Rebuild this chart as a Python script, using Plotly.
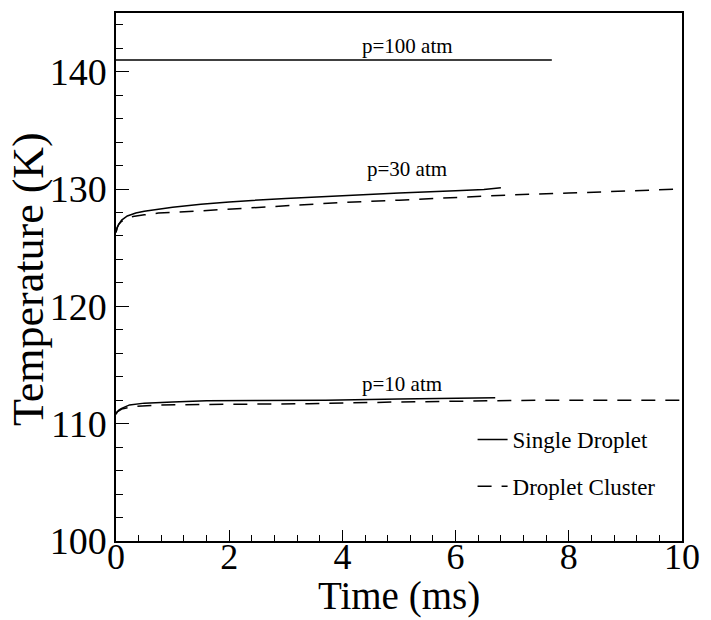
import plotly.graph_objects as go

# p=100 atm, single droplet
t100_single = [0.0, 1.0, 2.0, 3.0, 4.0, 5.0, 6.0, 7.0, 7.7]
T100_single = [141.0, 141.0, 141.0, 141.0, 141.0, 141.0, 141.0, 141.0, 141.0]

# p=30 atm
t30_single = [0.0, 0.02, 0.05, 0.1, 0.2, 0.35, 0.5, 0.75, 1.0, 1.5, 2.0, 3.0, 4.0, 5.0, 6.0, 6.5, 6.8]
T30_single = [126.3, 126.7, 127.0, 127.35, 127.7, 127.95, 128.1, 128.3, 128.45, 128.7, 128.9, 129.2, 129.45, 129.65, 129.85, 129.95, 130.1]
t30_cluster = [0.0, 0.02, 0.05, 0.1, 0.2, 0.3, 0.5, 0.75, 1.0, 2.0, 3.0, 4.0, 5.0, 6.0, 7.0, 8.0, 9.0, 10.0]
T30_cluster = [126.3, 126.7, 127.0, 127.25, 127.5, 127.65, 127.8, 127.95, 128.0, 128.3, 128.6, 128.85, 129.05, 129.3, 129.5, 129.65, 129.8, 130.0]

# p=10 atm
t10_single = [0.0, 0.02, 0.05, 0.1, 0.24, 0.5, 1.0, 1.6, 2.5, 3.7, 5.0, 6.0, 6.7]
T10_single = [110.8, 111.0, 111.15, 111.3, 111.6, 111.75, 111.85, 111.95, 111.98, 112.0, 112.1, 112.15, 112.2]
t10_cluster = [0.0, 0.02, 0.05, 0.1, 0.3, 0.77, 2.0, 3.4, 5.0, 6.5, 7.5, 10.0]
T10_cluster = [110.8, 111.0, 111.1, 111.25, 111.45, 111.6, 111.65, 111.7, 111.85, 111.95, 112.0, 112.0]

labels = ["p=100 atm", "p=30 atm", "p=10 atm"]
label_pos = [(5.15, 141.0), (5.15, 130.5), (5.05, 112.2)]

font_family = "Liberation Serif, Times New Roman, serif"
fig = go.Figure()

line_single = dict(color="black", width=1.5, dash="solid")
line_cluster = dict(color="black", width=1.5, dash="14px,10px")

fig.add_trace(go.Scatter(x=t10_single, y=T10_single, mode="lines", line=line_single,
                         name="Single Droplet", legendgroup="s", showlegend=True))
fig.add_trace(go.Scatter(x=t30_single, y=T30_single, mode="lines", line=line_single,
                         name="Single Droplet", legendgroup="s", showlegend=False))
fig.add_trace(go.Scatter(x=t100_single, y=T100_single, mode="lines", line=line_single,
                         name="Single Droplet", legendgroup="s", showlegend=False))
fig.add_trace(go.Scatter(x=t10_cluster, y=T10_cluster, mode="lines", line=line_cluster,
                         name="Droplet Cluster", legendgroup="c", showlegend=True))
fig.add_trace(go.Scatter(x=t30_cluster, y=T30_cluster, mode="lines", line=line_cluster,
                         name="Droplet Cluster", legendgroup="c", showlegend=False))

for lab, (lx, ly) in zip(labels, label_pos):
    fig.add_annotation(x=lx, y=ly, text=lab, showarrow=False, yanchor="bottom", yshift=0,
                       font=dict(family=font_family, size=21, color="black"))

# axis titles
fig.add_annotation(x=0.5, y=-79 / 530, xref="paper", yref="paper", text="Time (ms)", showarrow=False,
                   yanchor="bottom", yshift=1, borderpad=0,
                   font=dict(family=font_family, size=39, color="black"))
fig.add_annotation(x=0, y=0.5, xref="paper", yref="paper", text="Temperature (K)", showarrow=False,
                   textangle=-90, xanchor="center", xshift=-88, yshift=-2,
                   font=dict(family=font_family, size=44, color="black"))

axis_common = dict(
    showline=True, linecolor="black", linewidth=1.5, mirror=True,
    ticks="inside", tickcolor="black", tickwidth=1.2,
    showgrid=False, zeroline=False,
)

fig.update_xaxes(range=[0, 10], dtick=2, tick0=0, ticklen=11, ticklabelstandoff=-17,
                 tickfont=dict(family=font_family, size=36, color="black"),
                 minor=dict(dtick=0.4, ticks="inside", ticklen=6, tickcolor="black", tickwidth=1),
                 **axis_common)
fig.update_yaxes(range=[100, 145], dtick=10, tick0=100, ticklen=13,
                 tickfont=dict(family=font_family, size=38, color="black"),
                 minor=dict(dtick=2, ticks="inside", ticklen=7, tickcolor="black", tickwidth=1),
                 **axis_common)

fig.update_layout(
    width=711, height=620,
    margin=dict(l=116, r=23, t=11, b=79),
    plot_bgcolor="white", paper_bgcolor="white",
    font=dict(family=font_family, color="black"),
    legend=dict(x=0.63, y=0.233, xanchor="left", yanchor="top",
                bgcolor="rgba(0,0,0,0)", tracegroupgap=14, traceorder="grouped",
                font=dict(family=font_family, size=23, color="black")),
)

fig.write_html("out.html")
